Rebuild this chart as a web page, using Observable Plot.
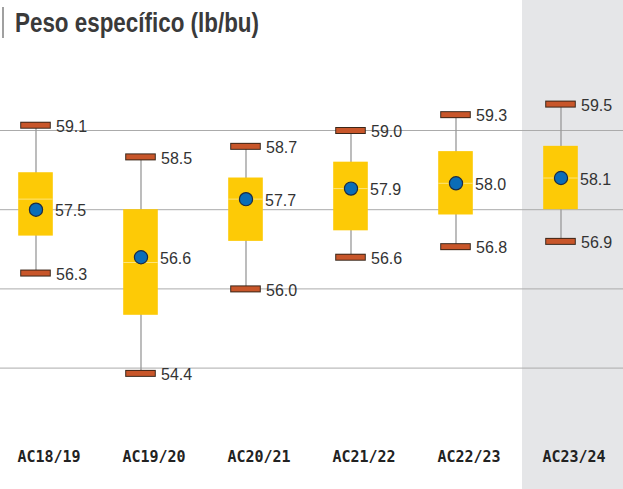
<!DOCTYPE html>
<html><head><meta charset="utf-8">
<script src="https://cdn.jsdelivr.net/npm/d3@7"></script>
<script src="https://cdn.jsdelivr.net/npm/@observablehq/plot@0.6"></script>
<style>
body{margin:0;background:#fff;}
#wrap{position:relative;width:623px;height:489px;overflow:hidden;}
#wrap svg{position:absolute;left:0;top:0;}
#title{position:absolute;left:15px;top:5px;font-family:"Liberation Sans",Arial,sans-serif;font-weight:bold;font-size:28px;color:#3a3a3a;white-space:nowrap;line-height:36px;z-index:2;transform:scaleX(0.8);transform-origin:0 0;}
#bar{position:absolute;left:2px;top:7px;width:2px;height:31px;background:#a0a0a0;z-index:2;}
</style></head><body><div id="wrap"><div id="bar"></div><div id="title">Peso específico (lb/bu)</div></div>
<script>
const seasons = ["AC18/19","AC19/20","AC20/21","AC21/22","AC22/23","AC23/24"];
const maxVals = [59.1,58.5,58.7,59.0,59.3,59.5];
const minVals = [56.3,54.4,56.0,56.6,56.8,56.9];
const meanVals = [57.5,56.6,57.7,57.9,58.0,58.1];
const q3Vals = [58.2,57.5,58.1,58.4,58.6,58.7];
const q1Vals = [57.0,55.5,56.9,57.1,57.4,57.5];
const medianVals = [57.7,56.5,57.7,57.9,58.0,58.1];
const gridTicks = [54.5,56,57.5,59];
const highlight = ["AC23/24"];

const data = seasons.map((s,i)=>({season:s,max:maxVals[i],min:minVals[i],mean:meanVals[i],q1:q1Vals[i],q3:q3Vals[i],median:medianVals[i]}));
const step = 105.4, c0 = 34.2;
const valFont = {fontFamily:"'Liberation Sans',Arial,sans-serif", fontSize:16, fill:"#333", textAnchor:"start", dx:20, dy:1.5};

const chart = Plot.plot({
  width:623, height:489, margin:0,
  style:{background:"transparent", overflow:"visible"},
  x:{type:"band", domain:seasons, range:[c0-step/2, c0+5.5*step], padding:0, axis:null},
  y:{domain:[54.5,59], range:[367.6,130], axis:null},
  marks:[
    Plot.cell(highlight,{x:d=>d, fill:"#e5e6e8", insetLeft:14, insetRight:-10}),
    Plot.ruleY(gridTicks,{stroke:"#ababab", strokeWidth:1}),
    Plot.ruleX(data,{x:"season", y1:"min", y2:"max", stroke:"#999", strokeWidth:1.3}),
    Plot.barY(data,{x:"season", y1:"q1", y2:"q3", fill:"#fdca06", insetLeft:35.2, insetRight:35.2}),
    Plot.tickY(data,{x:"season", y:"median", stroke:"#fde47a", strokeWidth:1, insetLeft:35.2, insetRight:35.2}),
    Plot.tickY(data,{x:"season", y:"max", stroke:"#3b2618", strokeWidth:7, insetLeft:37.2, insetRight:37.2}),
    Plot.tickY(data,{x:"season", y:"max", stroke:"#c8562a", strokeWidth:5, insetLeft:38.2, insetRight:38.2}),
    Plot.tickY(data,{x:"season", y:"min", stroke:"#3b2618", strokeWidth:7, insetLeft:37.2, insetRight:37.2}),
    Plot.tickY(data,{x:"season", y:"min", stroke:"#c8562a", strokeWidth:5, insetLeft:38.2, insetRight:38.2}),
    Plot.dot(data,{x:"season", y:"mean", r:6.6, fill:"#0b6db7", stroke:"#1c2c44", strokeWidth:1.2}),
    Plot.text(data,{x:"season", y:"max", text:d=>d.max.toFixed(1), ...valFont}),
    Plot.text(data,{x:"season", y:"min", text:d=>d.min.toFixed(1), ...valFont}),
    Plot.text(data,{x:"season", y:"mean", text:d=>d.mean.toFixed(1), ...valFont, dx:19}),
    Plot.text(seasons,{x:d=>d, text:d=>d, frameAnchor:"bottom", dy:-28, dx:13, fontFamily:"'DejaVu Sans Mono',monospace", fontWeight:"bold", fontSize:15, fill:"#222"})
  ]
});
document.getElementById("wrap").prepend(chart);
</script>
</body></html>
